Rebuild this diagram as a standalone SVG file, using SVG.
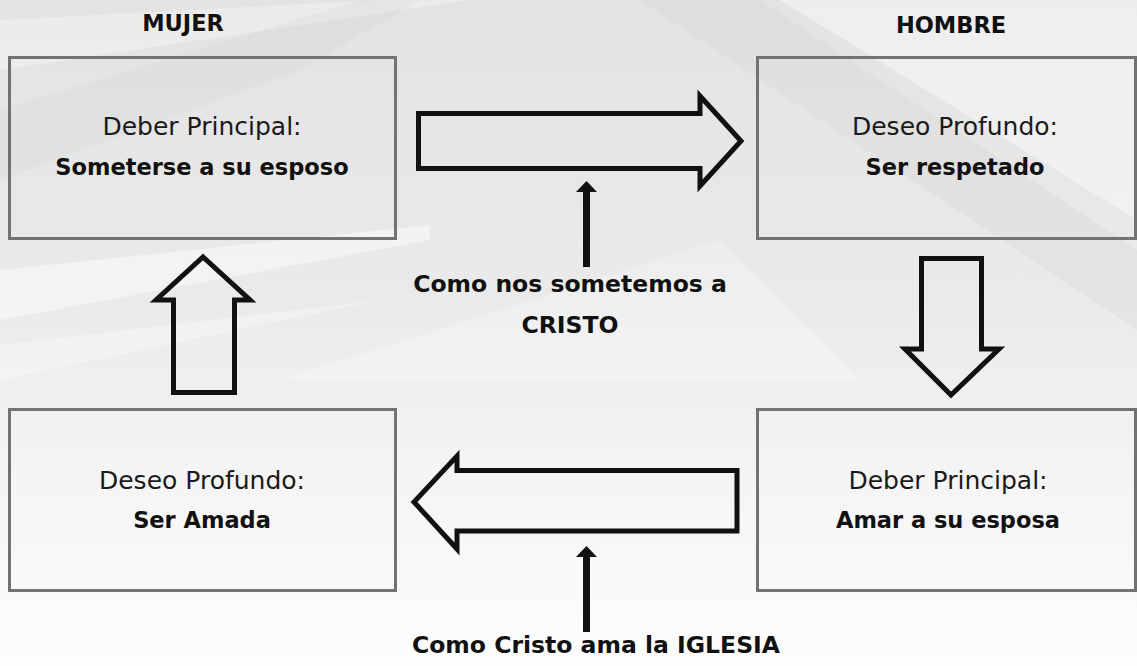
<svg xmlns="http://www.w3.org/2000/svg" width="1137" height="666" viewBox="0 0 1137 666">
<defs>
<linearGradient id="bg" x1="0" y1="0" x2="0" y2="1">
<stop offset="0" stop-color="#e3e3e3"/>
<stop offset="0.45" stop-color="#eaeaea"/>
<stop offset="0.7" stop-color="#f4f4f4"/>
<stop offset="1" stop-color="#fdfdfd"/>
</linearGradient>
<style>
.box{fill:none;stroke:#727272;stroke-width:3}
.big{fill:none;stroke:#111;stroke-width:5;stroke-linejoin:miter;stroke-miterlimit:10}
.reg{font-family:"DejaVu Sans","Liberation Sans",sans-serif;font-size:25px;fill:#1a1a1a;text-anchor:middle}
.bold{font-family:"DejaVu Sans","Liberation Sans",sans-serif;font-size:22.5px;font-weight:bold;fill:#111;text-anchor:middle}
.lbl{font-family:"DejaVu Sans","Liberation Sans",sans-serif;font-size:23.5px;font-weight:bold;fill:#111;text-anchor:middle}
.shaft{stroke:#111;stroke-width:7}
.head{fill:#111}
</style>
</defs>
<g id="background">
<rect width="1137" height="666" fill="url(#bg)"/>
<polygon points="0,20 0,70 470,0 380,0" fill="#ffffff" opacity="0.3"/>
<polygon points="0,110 0,180 300,70 420,0 360,0" fill="#cfcfcf" opacity="0.2"/>
<polygon points="780,0 1137,0 1137,220" fill="#ffffff" opacity="0.4"/>
<polygon points="640,0 760,0 1137,250 1137,330" fill="#cccccc" opacity="0.2"/>
<polygon points="0,270 0,320 430,240 430,225" fill="#ffffff" opacity="0.45"/>
<polygon points="0,345 0,380 380,300" fill="#ffffff" opacity="0.3"/>
<polygon points="280,380 860,380 720,240" fill="#ffffff" opacity="0.25"/>
</g>
<g id="mujer-title"><text class="lbl" x="183" y="31" style="font-size:22.5px">MUJER</text></g>
<g id="hombre-title"><text class="lbl" x="951" y="33" style="font-size:22.5px">HOMBRE</text></g>
<g id="box-mujer-deber">
<rect class="box" x="9.5" y="57.5" width="386" height="181"/>
<text class="reg" x="202" y="135">Deber Principal:</text>
<text class="bold" x="202" y="175">Someterse a su esposo</text>
</g>
<g id="box-hombre-deseo">
<rect class="box" x="757.5" y="57.5" width="378" height="181"/>
<text class="reg" x="955" y="135">Deseo Profundo:</text>
<text class="bold" x="955" y="175">Ser respetado</text>
</g>
<g id="box-mujer-deseo">
<rect class="box" x="9.5" y="409.5" width="386" height="181"/>
<text class="reg" x="202" y="489">Deseo Profundo:</text>
<text class="bold" x="202" y="528">Ser Amada</text>
</g>
<g id="box-hombre-deber">
<rect class="box" x="757.5" y="409.5" width="378" height="181"/>
<text class="reg" x="948" y="489">Deber Principal:</text>
<text class="bold" x="948" y="528">Amar a su esposa</text>
</g>
<g id="label-top">
<text class="lbl" x="570" y="292">Como nos sometemos a</text>
<text class="lbl" x="570" y="333">CRISTO</text>
</g>
<g id="label-bottom">
<text class="lbl" x="596" y="653">Como Cristo ama la IGLESIA</text>
</g>
<g id="connectors">
<path class="big" d="M418.5,113.5 L700,113.5 L700,96 L741,141 L700,186 L700,168.5 L418.5,168.5 Z"/>
<path class="big" d="M737,470.5 L457,470.5 L457,456 L414,502 L457,549 L457,531 L737,531 Z"/>
<path class="big" d="M173.5,392.5 L234.5,392.5 L234.5,300 L250,300 L203,257 L156,300 L173.5,300 Z"/>
<path class="big" d="M921.5,258.5 L981.5,258.5 L981.5,349 L999,349 L951,395 L905,349 L921.5,349 Z"/>
<line class="shaft" x1="586.5" y1="267" x2="586.5" y2="190"/>
<polygon class="head" points="576,192 597,192 586.5,181"/>
<line class="shaft" x1="586.5" y1="632" x2="586.5" y2="555"/>
<polygon class="head" points="576,557 597,557 586.5,546"/>
</g>
</svg>
